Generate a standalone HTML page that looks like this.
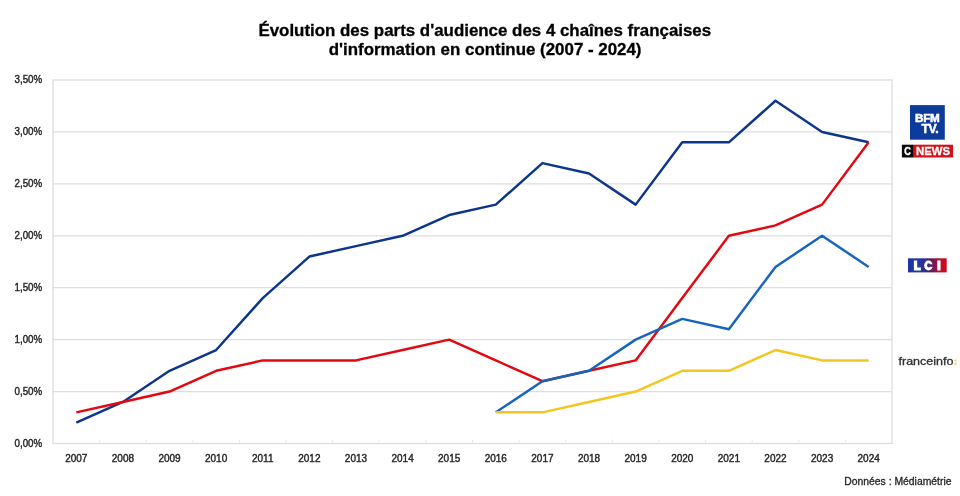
<!DOCTYPE html>
<html><head><meta charset="utf-8"><style>
html,body{margin:0;padding:0;background:#fff;}
body{width:960px;height:496px;overflow:hidden;position:relative;font-family:"Liberation Sans",sans-serif;}
svg{position:absolute;left:0;top:0;will-change:transform;}
.ax{font-family:"Liberation Sans",sans-serif;font-size:10px;fill:#262626;stroke:#262626;stroke-width:0.4px;}
.title{font-family:"Liberation Sans",sans-serif;font-weight:bold;font-size:16.9px;fill:#000;stroke:#000;stroke-width:0.3px;}
.src{font-family:"Liberation Sans",sans-serif;font-size:10.3px;fill:#262626;stroke:#262626;stroke-width:0.3px;}
</style></head><body>
<svg width="960" height="496" viewBox="0 0 960 496">
<text x="484.8" y="35.9" text-anchor="middle" class="title">Évolution des parts d'audience des 4 chaînes françaises</text>
<text x="485.1" y="55.3" text-anchor="middle" class="title">d'information en continue (2007 - 2024)</text>
<line x1="53.0" y1="391.57" x2="892.0" y2="391.57" stroke="#dedede" stroke-width="1.3"/>
<line x1="53.0" y1="339.64" x2="892.0" y2="339.64" stroke="#dedede" stroke-width="1.3"/>
<line x1="53.0" y1="287.71" x2="892.0" y2="287.71" stroke="#dedede" stroke-width="1.3"/>
<line x1="53.0" y1="235.79" x2="892.0" y2="235.79" stroke="#dedede" stroke-width="1.3"/>
<line x1="53.0" y1="183.86" x2="892.0" y2="183.86" stroke="#dedede" stroke-width="1.3"/>
<line x1="53.0" y1="131.93" x2="892.0" y2="131.93" stroke="#dedede" stroke-width="1.3"/>
<rect x="53.0" y="80.0" width="839.0" height="363.5" fill="none" stroke="#dedede" stroke-width="1.3"/>
<line x1="99.61" y1="439.5" x2="99.61" y2="443.5" stroke="#e8e8e8" stroke-width="1"/>
<line x1="146.22" y1="439.5" x2="146.22" y2="443.5" stroke="#e8e8e8" stroke-width="1"/>
<line x1="192.83" y1="439.5" x2="192.83" y2="443.5" stroke="#e8e8e8" stroke-width="1"/>
<line x1="239.44" y1="439.5" x2="239.44" y2="443.5" stroke="#e8e8e8" stroke-width="1"/>
<line x1="286.06" y1="439.5" x2="286.06" y2="443.5" stroke="#e8e8e8" stroke-width="1"/>
<line x1="332.67" y1="439.5" x2="332.67" y2="443.5" stroke="#e8e8e8" stroke-width="1"/>
<line x1="379.28" y1="439.5" x2="379.28" y2="443.5" stroke="#e8e8e8" stroke-width="1"/>
<line x1="425.89" y1="439.5" x2="425.89" y2="443.5" stroke="#e8e8e8" stroke-width="1"/>
<line x1="472.50" y1="439.5" x2="472.50" y2="443.5" stroke="#e8e8e8" stroke-width="1"/>
<line x1="519.11" y1="439.5" x2="519.11" y2="443.5" stroke="#e8e8e8" stroke-width="1"/>
<line x1="565.72" y1="439.5" x2="565.72" y2="443.5" stroke="#e8e8e8" stroke-width="1"/>
<line x1="612.33" y1="439.5" x2="612.33" y2="443.5" stroke="#e8e8e8" stroke-width="1"/>
<line x1="658.94" y1="439.5" x2="658.94" y2="443.5" stroke="#e8e8e8" stroke-width="1"/>
<line x1="705.56" y1="439.5" x2="705.56" y2="443.5" stroke="#e8e8e8" stroke-width="1"/>
<line x1="752.17" y1="439.5" x2="752.17" y2="443.5" stroke="#e8e8e8" stroke-width="1"/>
<line x1="798.78" y1="439.5" x2="798.78" y2="443.5" stroke="#e8e8e8" stroke-width="1"/>
<line x1="845.39" y1="439.5" x2="845.39" y2="443.5" stroke="#e8e8e8" stroke-width="1"/>
<text x="42.2" y="446.90" text-anchor="end" class="ax" textLength="27.6" lengthAdjust="spacingAndGlyphs">0,00%</text>
<text x="42.2" y="394.97" text-anchor="end" class="ax" textLength="27.6" lengthAdjust="spacingAndGlyphs">0,50%</text>
<text x="42.2" y="343.04" text-anchor="end" class="ax" textLength="27.6" lengthAdjust="spacingAndGlyphs">1,00%</text>
<text x="42.2" y="291.11" text-anchor="end" class="ax" textLength="27.6" lengthAdjust="spacingAndGlyphs">1,50%</text>
<text x="42.2" y="239.19" text-anchor="end" class="ax" textLength="27.6" lengthAdjust="spacingAndGlyphs">2,00%</text>
<text x="42.2" y="187.26" text-anchor="end" class="ax" textLength="27.6" lengthAdjust="spacingAndGlyphs">2,50%</text>
<text x="42.2" y="135.33" text-anchor="end" class="ax" textLength="27.6" lengthAdjust="spacingAndGlyphs">3,00%</text>
<text x="42.2" y="83.40" text-anchor="end" class="ax" textLength="27.6" lengthAdjust="spacingAndGlyphs">3,50%</text>
<text x="76.31" y="462" text-anchor="middle" class="ax">2007</text>
<text x="122.92" y="462" text-anchor="middle" class="ax">2008</text>
<text x="169.53" y="462" text-anchor="middle" class="ax">2009</text>
<text x="216.14" y="462" text-anchor="middle" class="ax">2010</text>
<text x="262.75" y="462" text-anchor="middle" class="ax">2011</text>
<text x="309.36" y="462" text-anchor="middle" class="ax">2012</text>
<text x="355.97" y="462" text-anchor="middle" class="ax">2013</text>
<text x="402.58" y="462" text-anchor="middle" class="ax">2014</text>
<text x="449.19" y="462" text-anchor="middle" class="ax">2015</text>
<text x="495.81" y="462" text-anchor="middle" class="ax">2016</text>
<text x="542.42" y="462" text-anchor="middle" class="ax">2017</text>
<text x="589.03" y="462" text-anchor="middle" class="ax">2018</text>
<text x="635.64" y="462" text-anchor="middle" class="ax">2019</text>
<text x="682.25" y="462" text-anchor="middle" class="ax">2020</text>
<text x="728.86" y="462" text-anchor="middle" class="ax">2021</text>
<text x="775.47" y="462" text-anchor="middle" class="ax">2022</text>
<text x="822.08" y="462" text-anchor="middle" class="ax">2023</text>
<text x="868.69" y="462" text-anchor="middle" class="ax">2024</text>
<polyline points="76.31,422.73 122.92,401.96 169.53,370.80 216.14,350.03 262.75,298.10 309.36,256.56 355.97,246.17 402.58,235.79 449.19,215.01 495.81,204.63 542.42,163.09 589.03,173.47 635.64,204.63 682.25,142.31 728.86,142.31 775.47,100.77 822.08,131.93 868.69,142.31" fill="none" stroke="#0b368b" stroke-width="2.45" stroke-linejoin="round" stroke-linecap="butt"/>
<polyline points="76.31,412.34 122.92,401.96 169.53,391.57 216.14,370.80 262.75,360.41 309.36,360.41 355.97,360.41 402.58,350.03 449.19,339.64 495.81,360.41 542.42,381.19 589.03,370.80 635.64,360.41 682.25,298.10 728.86,235.79 775.47,225.40 822.08,204.63 868.69,142.31" fill="none" stroke="#e3080f" stroke-width="2.45" stroke-linejoin="round" stroke-linecap="butt"/>
<polyline points="495.81,412.34 542.42,381.19 589.03,370.80 635.64,339.64 682.25,318.87 728.86,329.26 775.47,266.94 822.08,235.79 868.69,266.94" fill="none" stroke="#1564bf" stroke-width="2.45" stroke-linejoin="round" stroke-linecap="butt"/>
<polyline points="495.81,412.34 542.42,412.34 589.03,401.96 635.64,391.57 682.25,370.80 728.86,370.80 775.47,350.03 822.08,360.41 868.69,360.41" fill="none" stroke="#f3c61f" stroke-width="2.45" stroke-linejoin="round" stroke-linecap="butt"/>
<text x="951.5" y="484.7" text-anchor="end" class="src" textLength="107.2" lengthAdjust="spacingAndGlyphs">Données : Médiamétrie</text>
<!-- BFM TV logo -->
<rect x="910" y="105.1" width="34.8" height="34.6" fill="#0c3b9c"/>
<text x="927.3" y="121.7" text-anchor="middle" font-family="Liberation Sans" font-weight="bold" font-size="11.7" fill="#fff" stroke="#fff" stroke-width="0.55" letter-spacing="-0.25">BFM</text>
<text x="929.9" y="132.9" text-anchor="middle" font-family="Liberation Sans" font-weight="bold" font-size="12.3" fill="#fff" stroke="#fff" stroke-width="0.55" letter-spacing="-0.45">TV.</text>
<!-- CNEWS logo -->
<rect x="901.9" y="144.7" width="11.9" height="12.8" fill="#0a0a0a"/>
<rect x="913.8" y="144.7" width="39.3" height="12.8" fill="#d3101b"/>
<text x="904.3" y="155.1" font-family="Liberation Sans" font-weight="bold" font-size="11.3" fill="#fff" stroke="#fff" stroke-width="0.45" textLength="6.6" lengthAdjust="spacingAndGlyphs">C</text>
<text x="916.1" y="155.1" font-family="Liberation Sans" font-weight="bold" font-size="11.3" fill="#fff" stroke="#fff" stroke-width="0.3" textLength="34" lengthAdjust="spacingAndGlyphs">NEWS</text>
<!-- LCI logo -->
<defs><linearGradient id="lg" gradientUnits="userSpaceOnUse" x1="908" x2="946.7" y1="0" y2="0">
<stop offset="0" stop-color="#1b35a8"/><stop offset="0.3" stop-color="#1f3aa0"/><stop offset="0.55" stop-color="#4a2070"/><stop offset="0.8" stop-color="#b0102e"/><stop offset="1" stop-color="#d2081c"/></linearGradient></defs>
<rect x="908" y="258.3" width="38.7" height="14.1" fill="url(#lg)"/>
<path d="M913.9 260.4h3.3v7h3.7v3.1h-7z" fill="#fff"/>
<ellipse cx="928.45" cy="265.45" rx="4.3" ry="5.05" fill="#fff"/><ellipse cx="928.6" cy="265.45" rx="1.5" ry="2.1" fill="url(#lg)"/><rect x="928.6" y="264.3" width="4.5" height="2.5" fill="url(#lg)"/>
<rect x="937.3" y="260.4" width="3.3" height="10.1" fill="#fff"/>
<!-- franceinfo -->
<text x="898.5" y="365" font-family="Liberation Sans" font-size="11" fill="#303030" stroke="#303030" stroke-width="0.3" textLength="55" lengthAdjust="spacingAndGlyphs">franceinfo</text>
<rect x="954.6" y="359.6" width="1.9" height="1.9" fill="#f1d447"/>
<rect x="954.6" y="363.1" width="1.9" height="1.9" fill="#f1d447"/>
</svg>
</body></html>
